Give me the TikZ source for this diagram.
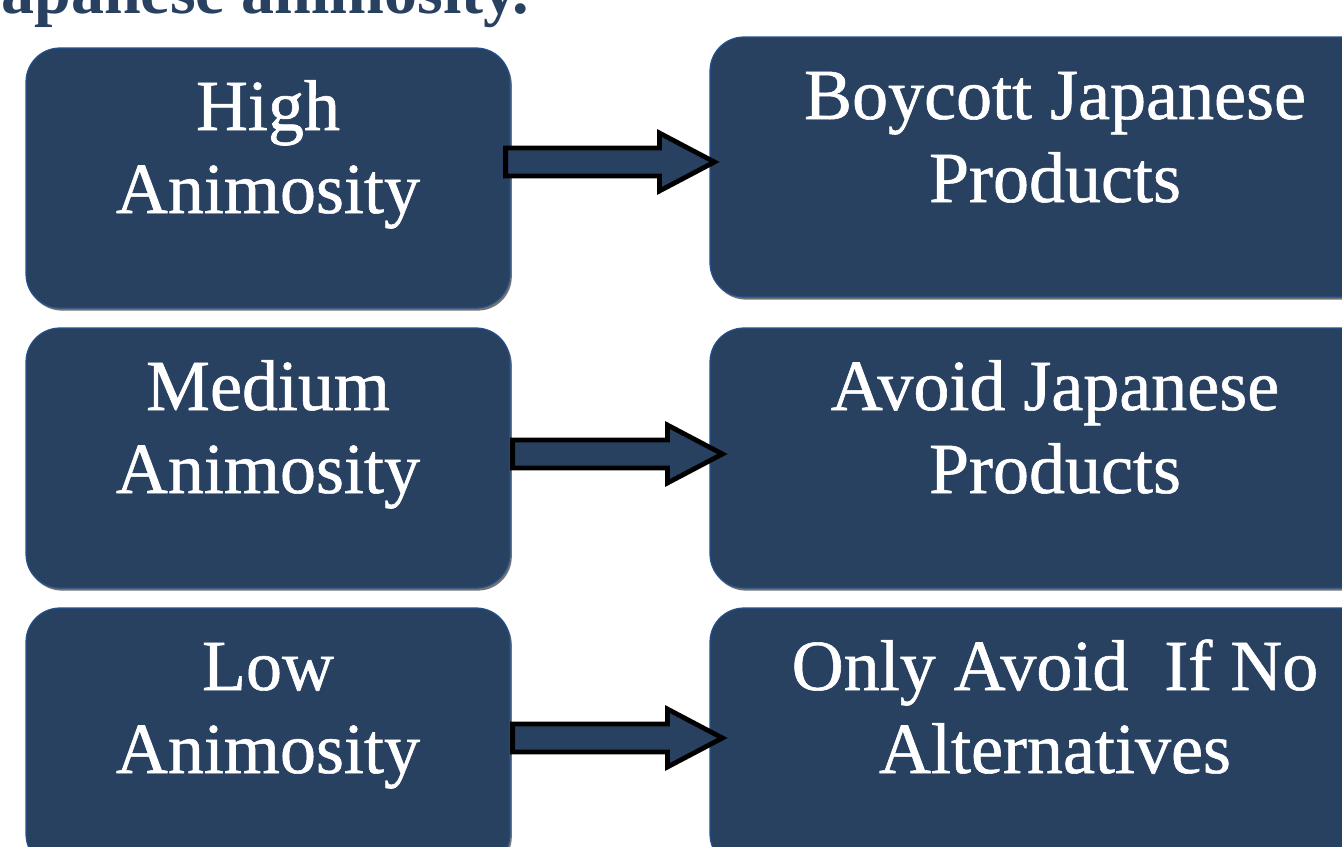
\documentclass[tikz,border=0pt]{standalone}
\usepackage{fontspec}
\setmainfont{Liberation Serif}
\newfontfamily\boxfont[FakeBold=0.8]{Liberation Serif}
\newfontfamily\headfont{Liberation Serif}
\usetikzlibrary{shadows,calc}
\definecolor{boxblue}{RGB}{41,65,97}
\definecolor{edgeblue}{RGB}{36,82,140}
\tikzset{
  box/.style={draw=edgeblue, line width=0.6pt, fill=boxblue, rounded corners=17pt, inner sep=0pt,
    drop shadow={shadow xshift=0.9pt, shadow yshift=-1.3pt, opacity=0.55, fill=black}},
  lbox/.style={box, minimum width=242pt, minimum height=130pt},
  rbox/.style={box, minimum width=345pt, minimum height=130pt},
  boxtext/.style={text=white, font=\boxfont\fontsize{36}{41.5}\selectfont, align=center, inner sep=0pt},
  titletext/.style={text=boxblue, font=\headfont\bfseries\fontsize{33}{38}\selectfont, inner sep=0pt},
  blockarr/.style={draw=black, line width=2.4pt, fill=boxblue, line join=miter}
}
\newcommand\blockarrow[2]{%
  \draw[blockarr] let \p1=(#1), \p2=(#2) in
    (\x1,\y1+7pt) -- (\x2-27.5pt,\y1+7pt) -- (\x2-27.5pt,\y1+14.5pt) -- (\x2,\y1)
    -- (\x2-27.5pt,\y1-14.5pt) -- (\x2-27.5pt,\y1-7pt) -- (\x1,\y1-7pt) -- cycle;}
\begin{document}
\begin{tikzpicture}[x=0.5pt,y=-0.5pt]
\useasboundingbox (0,0) rectangle (1342,846);
\clip (0,0) rectangle (1342,846);
% title (cut off at the top)
\node[titletext, anchor=base west] (title) at (-32,13) {Japanese animosity.};
% boxes
\node[lbox] (L1) at (268,178) {};
\node[lbox] (L2) at (268,458) {};
\node[lbox] (L3) at (268,738) {};
\node[rbox] (R1) at (1055,167) {};
\node[rbox] (R2) at (1055,458) {};
\node[rbox] (R3) at (1055,738) {};
% texts (anchor = baseline of the last line)
\node[boxtext, anchor=base] (tL1) at (268,213) {High\\Animosity};
\node[boxtext, anchor=base] (tL2) at (268,493) {Medium\\Animosity};
\node[boxtext, anchor=base] (tL3) at (268,773) {Low\\Animosity};
\node[boxtext, anchor=base] (tR1) at (1055,202) {Boycott Japanese\\Products};
\node[boxtext, anchor=base] (tR2) at (1055,493) {Avoid Japanese\\Products};
\node[boxtext, anchor=base] (tR3) at (1055,773) {Only Avoid\ \ If No\\Alternatives};
% arrows
\coordinate (a1s) at ($(L1.east)+(-2.5pt,8pt)$);
\coordinate (a1e) at ($(R1.west)+(2.5pt,2.5pt)$);
\coordinate (a2s) at ($(L2.east)+(1pt,2pt)$);
\coordinate (a2e) at ($(R2.west)+(6.5pt,2pt)$);
\coordinate (a3s) at ($(L3.east)+(1pt,0pt)$);
\coordinate (a3e) at ($(R3.west)+(6.5pt,0pt)$);
\blockarrow{a1s}{a1e}
\blockarrow{a2s}{a2e}
\blockarrow{a3s}{a3e}
\end{tikzpicture}
\end{document}
